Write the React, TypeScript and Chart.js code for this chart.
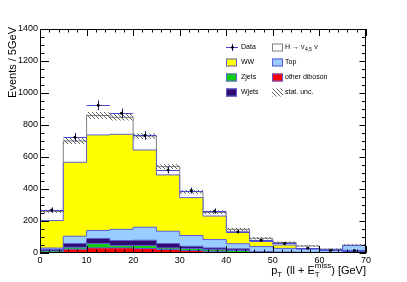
import { useEffect, useRef } from 'react';
import { Chart, registerables } from 'chart.js';

Chart.register(...registerables);

// ---------------- data ----------------
const binEdges = [0, 5, 10, 15, 20, 25, 30, 35, 40, 45, 50, 55, 60, 65, 70];
const otherDiboson = [3, 24, 32, 32, 28, 22, 16, 8, 2, 1, 0, 0, 0, 0];
const zJets = [10, 12, 27, 15, 19, 10, 12, 12, 14, 2, 1, 1, 0, 0];
const wJets = [10, 23, 32, 31, 33, 27, 14, 12, 10, 5, 5, 3, 2, 16];
const topQuark = [8, 46, 50, 70, 81, 77, 67, 52, 32, 32, 23, 20, 19, 31];
const ww = [172, 462, 597, 594, 483, 352, 237, 147, 75, 32, 21, 4, 1, 0];
const higgs = [57, 133, 121, 106, 87, 52, 37, 23, 15, 20, 16, 16, 2, 2];
const observed = [269, 723, 923, 873, 735, 519, 390, 262, 133, 79, 60, 31, 17, 15];
const statUnc = [10, 18, 22, 20, 18, 15, 13, 12, 10, 8, 6, 5, 4, 5];

const xTickValues = [0, 10, 20, 30, 40, 50, 60, 70];
const yTickValues = [0, 200, 400, 600, 800, 1000, 1200, 1400];

const stackNames = ['other diboson', 'Zjets', 'Wjets', 'Top', 'WW', 'H'];
const stackColors = ['#ff0000', '#11cc11', '#300a6e', '#99ccff', '#ffff00', '#ffffff'];
const stackBorders = ['#5c5cd6', '#5c5cd6', '#5c5cd6', '#5c5cd6', '#5c5cd6', '#808080'];

const FONT = "'Liberation Sans', Arial, Helvetica, sans-serif";

// ---------------- helpers ----------------
const stackInputs = [otherDiboson, zJets, wJets, topQuark, ww, higgs];
const cumulative: number[][] = [];
stackInputs.forEach((arr, k) => {
  cumulative.push(arr.map((v, i) => v + (k > 0 ? cumulative[k - 1][i] : 0)));
});
const total = cumulative[cumulative.length - 1];

function toSteps(vals: number[]) {
  const pts = vals.map((v, i) => ({ x: binEdges[i], y: v }));
  pts.push({ x: binEdges[vals.length], y: vals[vals.length - 1] });
  return pts;
}

function makeHatch(ctx: CanvasRenderingContext2D) {
  const c = document.createElement('canvas');
  c.width = 4;
  c.height = 4;
  const g = c.getContext('2d')!;
  g.strokeStyle = '#555555';
  g.lineWidth = 0.9;
  g.beginPath();
  g.moveTo(-1, -1);
  g.lineTo(5, 5);
  g.stroke();
  return ctx.createPattern(c, 'repeat');
}

export default function App() {
  const ref = useRef<HTMLCanvasElement | null>(null);

  useEffect(() => {
    const canvas = ref.current!;
    const ctx0 = canvas.getContext('2d')!;
    const hatch = makeHatch(ctx0);

    const stackDatasets = stackInputs.map((_, k) => ({
      label: stackNames[k],
      data: toSteps(cumulative[k]),
      stepped: true as const,
      fill: k === 0 ? 'origin' : '-1',
      backgroundColor: stackColors[k],
      borderColor: stackBorders[k],
      borderWidth: 1,
      pointRadius: 0,
      order: 10,
    }));

    const bandLow = total.map((v, i) => v - statUnc[i]);
    const bandHigh = total.map((v, i) => v + statUnc[i]);
    const dataIndex = stackDatasets.length + 2;

    const errorBars = {
      id: 'errorBars',
      beforeDatasetDraw(chart: any, args: any) {
        if (args.index !== dataIndex) return;
        const { ctx, scales } = chart;
        const x = scales.x;
        const y = scales.y;
        ctx.save();
        ctx.lineWidth = 1;
        observed.forEach((v, i) => {
          const cy = Math.round(y.getPixelForValue(v)) + 0.5;
          const cx = Math.round(x.getPixelForValue((binEdges[i] + binEdges[i + 1]) / 2)) + 0.5;
          const x0 = x.getPixelForValue(binEdges[i]);
          const x1 = x.getPixelForValue(binEdges[i + 1]);
          const e = Math.sqrt(v);
          ctx.strokeStyle = '#4a4ad0';
          ctx.beginPath();
          ctx.moveTo(x0, cy);
          ctx.lineTo(x1, cy);
          ctx.stroke();
          ctx.strokeStyle = '#1a1a70';
          ctx.beginPath();
          ctx.moveTo(cx, y.getPixelForValue(v + e));
          ctx.lineTo(cx, y.getPixelForValue(Math.max(0, v - e)));
          ctx.stroke();
        });
        ctx.restore();
      },
    };

    const frame = {
      id: 'frame',
      afterDatasetsDraw(chart: any) {
        const { ctx, chartArea, scales } = chart;
        const { left, right, top, bottom } = chartArea;
        const x = scales.x;
        const y = scales.y;
        ctx.save();
        ctx.strokeStyle = '#000';
        ctx.lineWidth = 1;
        ctx.strokeRect(left + 0.5, top + 0.5, right - left - 1, bottom - top - 1);
        ctx.beginPath();
        for (let v = 0; v <= 70; v += 2) {
          const px = Math.round(x.getPixelForValue(v)) + 0.5;
          const major = v % 10 === 0;
          const l = major ? 7 : 3.5;
          ctx.moveTo(px, bottom);
          ctx.lineTo(px, bottom - l);
          ctx.moveTo(px, top);
          ctx.lineTo(px, top + l);
        }
        for (let v = 0; v <= 1400; v += 50) {
          const py = Math.round(y.getPixelForValue(v)) + 0.5;
          const major = v % 200 === 0;
          ctx.moveTo(left, py);
          ctx.lineTo(left + (major ? 9 : 4.5), py);
          ctx.moveTo(right, py);
          ctx.lineTo(right - (major ? 6.5 : 4), py);
        }
        ctx.stroke();
        ctx.restore();
      },
    };

    const titles = {
      id: 'titles',
      afterDraw(chart: any) {
        const { ctx, chartArea } = chart;
        ctx.save();
        ctx.fillStyle = '#000';
        // y title
        ctx.save();
        ctx.translate(13, 27);
        ctx.rotate(-Math.PI / 2);
        ctx.font = `11px ${FONT}`;
        ctx.textAlign = 'right';
        ctx.textBaseline = 'middle';
        ctx.fillText('Events / 5GeV', 0, 0);
        ctx.restore();

        // x title: p_T (ll + E_T^miss) [GeV]
        const big = `11px ${FONT}`;
        const small = `8px ${FONT}`;
        const base = 274;
        ctx.textBaseline = 'alphabetic';
        ctx.textAlign = 'left';
        ctx.font = big;
        const wP = ctx.measureText('p').width;
        const wMid = ctx.measureText(' (ll + E').width;
        const wEnd = ctx.measureText(') [GeV]').width;
        ctx.font = small;
        const wT = ctx.measureText('T').width;
        const wMiss = ctx.measureText('miss').width;
        const totalW = wP + wT + 1 + wMid + Math.max(wT, wMiss) + wEnd;
        let cx = chartArea.right - totalW;
        ctx.font = big;
        ctx.fillText('p', cx, base);
        cx += wP;
        ctx.font = small;
        ctx.fillText('T', cx, base + 3);
        cx += wT + 1;
        ctx.font = big;
        ctx.fillText(' (ll + E', cx, base);
        cx += wMid;
        ctx.font = small;
        ctx.fillText('miss', cx, base - 6);
        ctx.fillText('T', cx, base + 3);
        cx += Math.max(wT, wMiss);
        ctx.font = big;
        ctx.fillText(') [GeV]', cx, base);

        // legend
        const rows = [47.5, 62.5, 77.5, 92.5];
        ctx.font = `7px ${FONT}`;
        ctx.textBaseline = 'middle';
        const box = (bx: number, row: number, fill: string, border: string) => {
          ctx.fillStyle = fill;
          ctx.fillRect(bx, row - 4, 11, 8);
          ctx.strokeStyle = border;
          ctx.lineWidth = 1;
          ctx.strokeRect(bx + 0.5, row - 3.5, 10, 7);
        };
        // Data
        ctx.lineWidth = 1;
        ctx.strokeStyle = '#4a4ad0';
        ctx.beginPath();
        ctx.moveTo(226, rows[0]);
        ctx.lineTo(238, rows[0]);
        ctx.stroke();
        ctx.strokeStyle = '#1a1a70';
        ctx.beginPath();
        ctx.moveTo(232.5, rows[0] - 3.5);
        ctx.lineTo(232.5, rows[0] + 3.5);
        ctx.stroke();
        ctx.fillStyle = '#000';
        ctx.beginPath();
        ctx.arc(232.5, rows[0], 1.4, 0, Math.PI * 2);
        ctx.fill();
        ctx.fillStyle = '#000';
        ctx.fillText('Data', 241, rows[0]);
        box(226, rows[1], stackColors[4], stackBorders[4]);
        ctx.fillStyle = '#000';
        ctx.fillText('WW', 241, rows[1]);
        box(226, rows[2], stackColors[1], stackBorders[1]);
        ctx.fillStyle = '#000';
        ctx.fillText('Zjets', 241, rows[2]);
        box(226, rows[3], stackColors[2], stackBorders[2]);
        ctx.fillStyle = '#000';
        ctx.fillText('Wjets', 241, rows[3]);

        box(272, rows[0], stackColors[5], stackBorders[5]);
        ctx.fillStyle = '#000';
        ctx.fillText('H \u2192 \u03BD', 285, rows[0]);
        let hx = 285 + ctx.measureText('H \u2192 \u03BD').width;
        ctx.font = `5px ${FONT}`;
        ctx.fillText('4,5', hx + 0.5, rows[0] + 2);
        hx += ctx.measureText('4,5').width + 1;
        ctx.font = `7px ${FONT}`;
        ctx.fillText(' \u03BD', hx, rows[0]);
        box(272, rows[1], stackColors[3], stackBorders[3]);
        ctx.fillStyle = '#000';
        ctx.fillText('Top', 285, rows[1]);
        box(272, rows[2], stackColors[0], stackBorders[0]);
        ctx.fillStyle = '#000';
        ctx.fillText('other diboson', 285, rows[2]);
        if (hatch) {
          ctx.fillStyle = hatch;
          ctx.fillRect(272, rows[3] - 4, 11, 8);
        }
        ctx.fillStyle = '#000';
        ctx.fillText('stat. unc.', 285, rows[3]);
        ctx.restore();
      },
    };

    const chart = new Chart(canvas, {
      type: 'line',
      data: {
        datasets: [
          ...stackDatasets,
          {
            label: 'band low',
            data: toSteps(bandLow),
            stepped: true,
            fill: false,
            borderWidth: 0,
            borderColor: 'rgba(0,0,0,0)',
            pointRadius: 0,
            order: 5,
          },
          {
            label: 'stat. unc.',
            data: toSteps(bandHigh),
            stepped: true,
            fill: '-1',
            backgroundColor: hatch as any,
            borderWidth: 0,
            borderColor: 'rgba(0,0,0,0)',
            pointRadius: 0,
            order: 5,
          },
          {
            label: 'Data',
            data: observed.map((v, i) => ({ x: (binEdges[i] + binEdges[i + 1]) / 2, y: v })),
            showLine: false,
            pointRadius: 1.5,
            pointBackgroundColor: '#000',
            pointBorderColor: '#000',
            pointBorderWidth: 0,
            order: 0,
          },
        ] as any,
      },
      options: {
        animation: false,
        responsive: false,
        devicePixelRatio: 1,
        layout: { padding: { top: 29, right: 41, left: 0, bottom: 0 } },
        plugins: { legend: { display: false }, tooltip: { enabled: false }, title: { display: false } },
        scales: {
          x: {
            type: 'linear',
            min: 0,
            max: 70,
            afterBuildTicks: (s: any) => {
              s.ticks = xTickValues.map((v) => ({ value: v }));
            },
            afterFit: (s: any) => {
              s.height = 29;
            },
            grid: { display: false, drawTicks: false },
            border: { display: false },
            ticks: {
              autoSkip: false,
              maxRotation: 0,
              padding: 2,
              color: '#000',
              font: { family: FONT, size: 9 },
              callback: (v: any) => String(v),
            },
          },
          y: {
            type: 'linear',
            min: 0,
            max: 1400,
            afterBuildTicks: (s: any) => {
              s.ticks = yTickValues.map((v) => ({ value: v }));
            },
            afterFit: (s: any) => {
              s.width = 40;
            },
            grid: { display: false, drawTicks: false },
            border: { display: false },
            ticks: {
              autoSkip: false,
              padding: 2,
              color: '#000',
              font: { family: FONT, size: 9 },
              callback: (v: any) => String(v),
            },
          },
        },
      },
      plugins: [errorBars, frame, titles],
    });
    return () => chart.destroy();
  }, []);

  return (
    <div style={{ position: 'absolute', left: 0, top: 0, width: 407, height: 282, background: '#fff' }}>
      <canvas ref={ref} width={407} height={282} style={{ display: 'block' }} />
    </div>
  );
}
